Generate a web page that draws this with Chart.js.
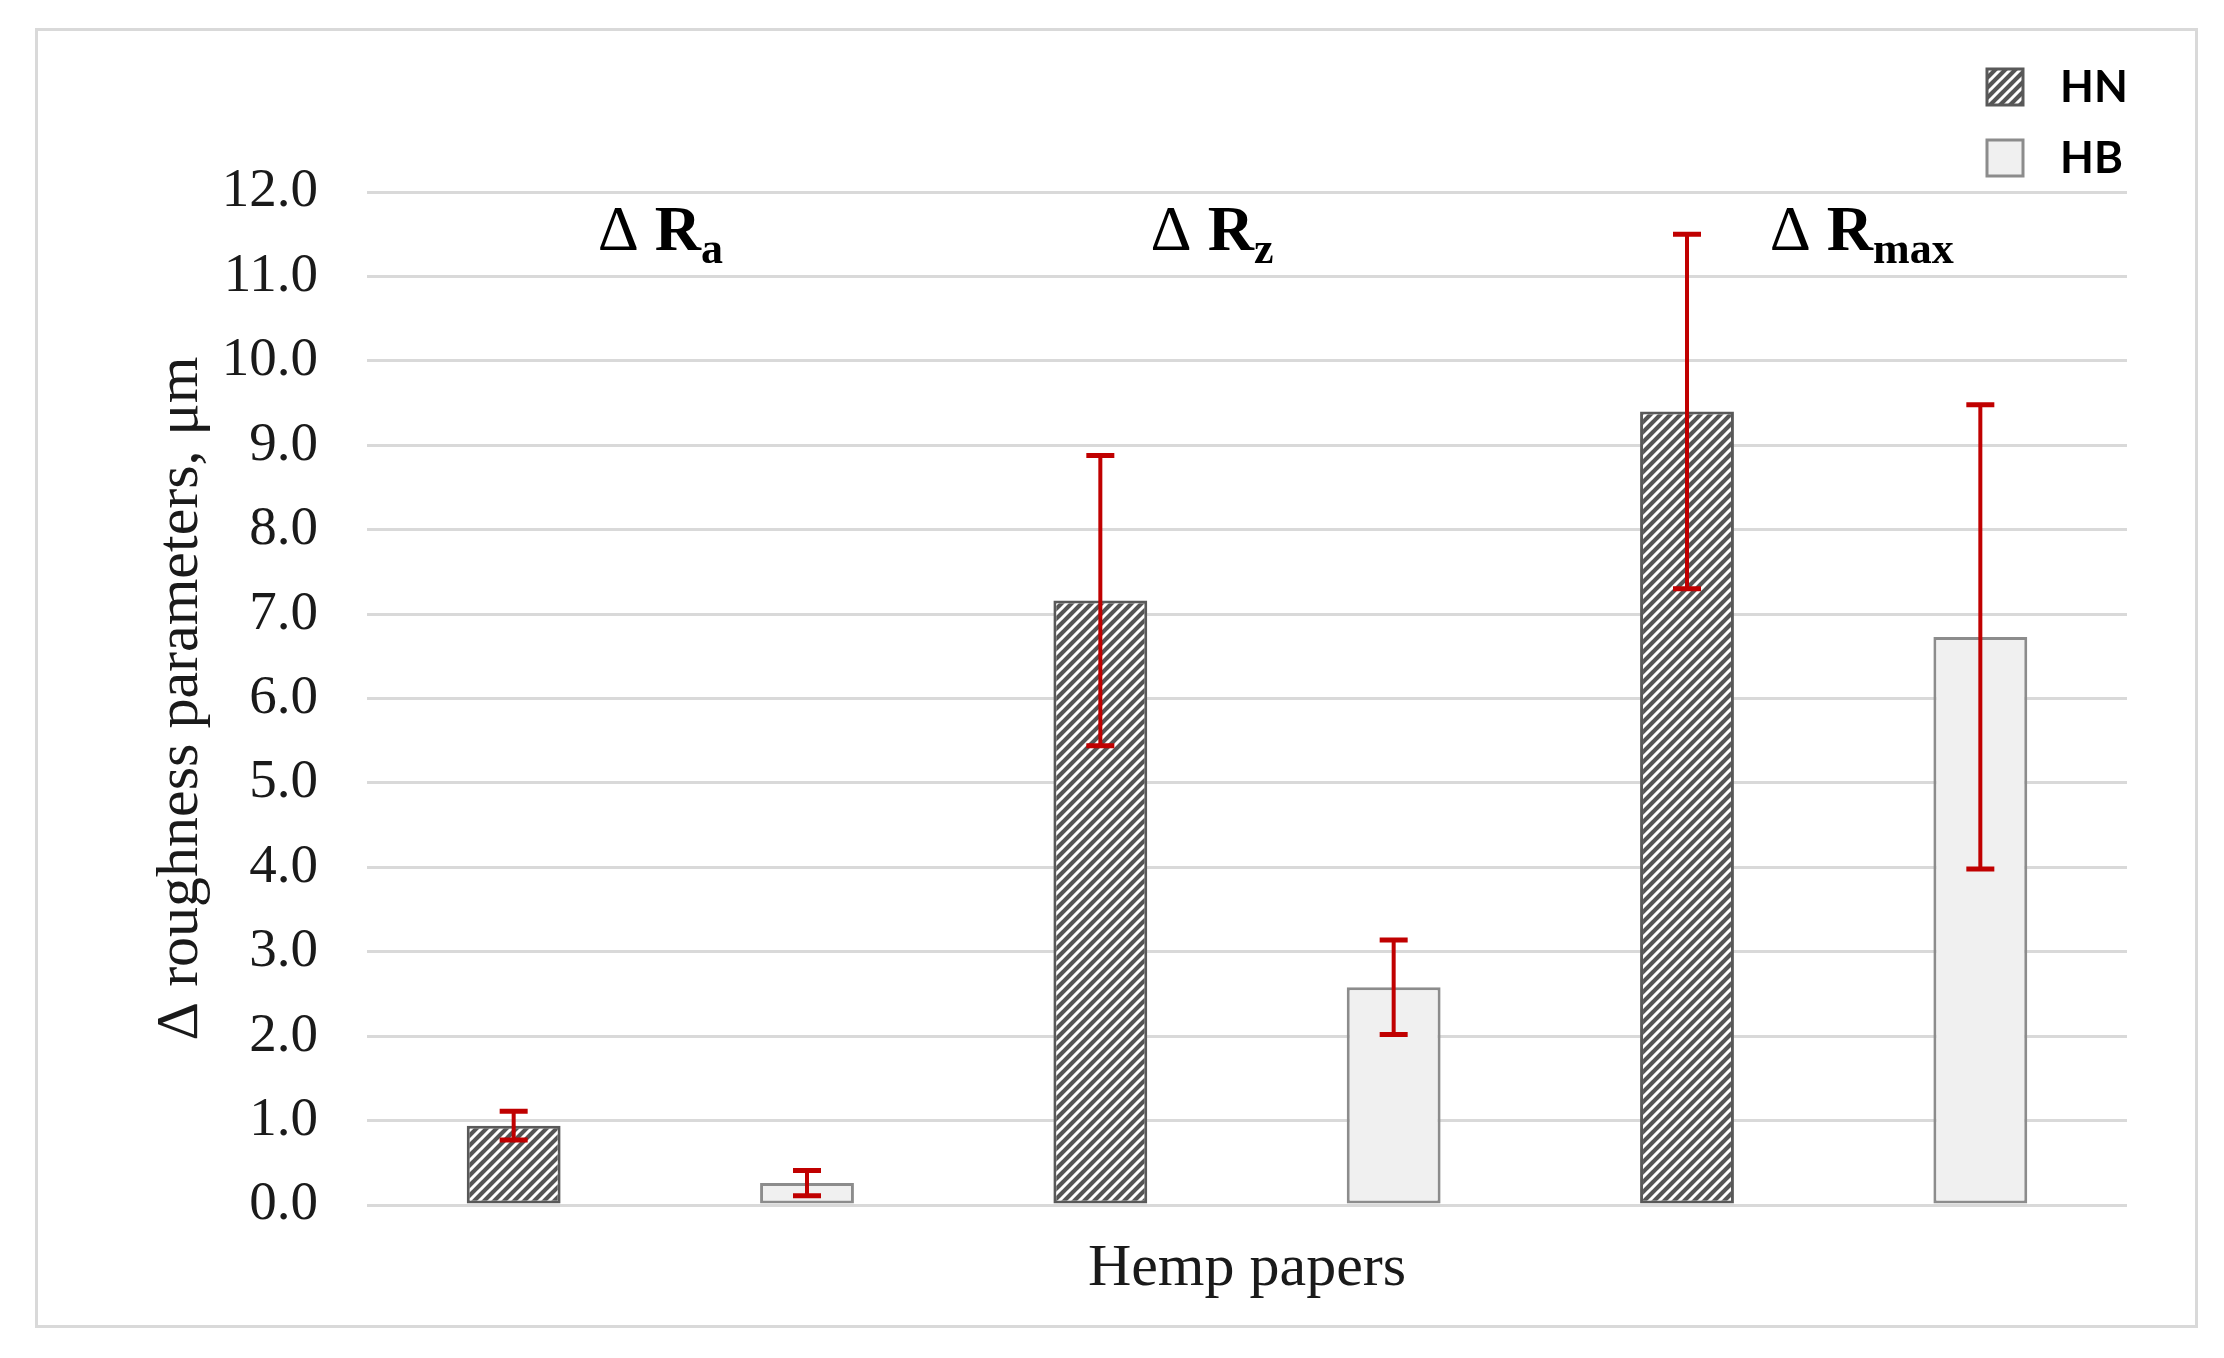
<!DOCTYPE html>
<html>
<head>
<meta charset="utf-8">
<script src="https://cdn.jsdelivr.net/npm/chart.js@4.4.0/dist/chart.umd.min.js"></script>
<style>
  html, body { margin: 0; padding: 0; background: #fff; }
  #frame { position: absolute; left: 35px; top: 28px; width: 2163px; height: 1300px; box-sizing: border-box; border: 3px solid #d9d9d9; }
  #wrap { position: absolute; left: 0; top: 0; width: 2224px; height: 1358px; }
</style>
</head>
<body>
<div id="frame"></div>
<div id="wrap"><canvas id="chart"></canvas></div>
<script>
// data
const categories = ['Ra', 'Rz', 'Rmax'];
const subscripts = ['a', 'z', 'max'];
const seriesNames = ['HN', 'HB'];
const hnValues = [0.94, 7.16, 9.40];
const hnErrors = [0.17, 1.72, 2.10];
const hbValues = [0.26, 2.58, 6.73];
const hbErrors = [0.15, 0.56, 2.75];
const yTickValues = [0, 1, 2, 3, 4, 5, 6, 7, 8, 9, 10, 11, 12];

// diagonal hatch like the Excel pattern fill
function makeHatch(size) {
  const c = document.createElement('canvas');
  c.width = size; c.height = size;
  const g = c.getContext('2d');
  g.fillStyle = '#555555';
  g.fillRect(0, 0, size, size);
  g.strokeStyle = '#ffffff';
  g.lineWidth = size * 0.3;
  g.beginPath();
  g.moveTo(-1, size + 1); g.lineTo(size + 1, -1);
  g.moveTo(-1, 1); g.lineTo(1, -1);
  g.moveTo(size - 1, size + 1); g.lineTo(size + 1, size - 1);
  g.stroke();
  return g.createPattern(c, 'repeat');
}
const hatch = makeHatch(10);

const errorBars = {
  id: 'errorBars',
  afterDatasetsDraw(chart) {
    const { ctx, scales: { y } } = chart;
    ctx.save();
    ctx.strokeStyle = '#c00000';
    chart.data.datasets.forEach((ds, i) => {
      chart.getDatasetMeta(i).data.forEach((bar, j) => {
        const top = y.getPixelForValue(ds.data[j] + ds.errors[j]);
        const bot = y.getPixelForValue(Math.max(0, ds.data[j] - ds.errors[j]));
        ctx.lineWidth = 4;
        ctx.beginPath();
        ctx.moveTo(bar.x, top); ctx.lineTo(bar.x, bot);
        ctx.stroke();
        ctx.lineWidth = 5;
        ctx.beginPath();
        ctx.moveTo(bar.x - 14, top); ctx.lineTo(bar.x + 14, top);
        ctx.moveTo(bar.x - 14, bot); ctx.lineTo(bar.x + 14, bot);
        ctx.stroke();
      });
    });
    ctx.restore();
  }
};

// "Δ Ra" style headers above each group
const headers = {
  id: 'headers',
  afterDraw(chart, args, opts) {
    const { ctx, scales: { x } } = chart;
    ctx.save();
    ctx.fillStyle = '#000';
    ctx.textBaseline = 'alphabetic';
    ctx.textAlign = 'left';
    categories.forEach((cat, i) => {
      const delta = 'Δ ';
      const fDelta = '64px "Liberation Serif"';
      const fR = 'bold 64px "Liberation Serif"';
      const fSub = 'bold 44px "Liberation Serif"';
      ctx.font = fDelta; const wD = ctx.measureText(delta).width;
      ctx.font = fR; const wR = ctx.measureText('R').width;
      ctx.font = fSub; const wS = ctx.measureText(subscripts[i]).width;
      const cx = x.getPixelForValue(i) + opts.shift[i];
      let px = cx - (wD + wR + wS) / 2;
      ctx.font = fDelta; ctx.fillText(delta, px, opts.baseline); px += wD;
      ctx.font = fR; ctx.fillText('R', px, opts.baseline); px += wR;
      ctx.font = fSub; ctx.fillText(subscripts[i], px, opts.baseline + 13);
    });
    ctx.restore();
  }
};

const boxLegend = {
  id: 'boxLegend',
  afterDraw(chart, args, opts) {
    const { ctx } = chart;
    ctx.save();
    chart.data.datasets.forEach((ds, i) => {
      const y = opts.top + i * opts.step;
      ctx.fillStyle = ds.backgroundColor;
      ctx.fillRect(opts.left, y, 36, 36);
      ctx.strokeStyle = ds.borderColor;
      ctx.lineWidth = 3;
      ctx.strokeRect(opts.left, y, 36, 36);
      ctx.fillStyle = '#000';
      ctx.font = 'bold 44px Lato';
      ctx.textBaseline = 'middle';
      ctx.fillText(ds.label, opts.left + 73, y + 19);
    });
    ctx.restore();
  }
};

new Chart(document.getElementById('chart'), {
  type: 'bar',
  data: {
    labels: categories,
    datasets: [
      { label: seriesNames[0], data: hnValues, errors: hnErrors,
        backgroundColor: hatch, borderColor: '#595959', borderWidth: 3, borderSkipped: false },
      { label: seriesNames[1], data: hbValues, errors: hbErrors,
        backgroundColor: '#f0f0f0', borderColor: '#8c8c8c', borderWidth: 3, borderSkipped: false }
    ]
  },
  options: {
    responsive: true,
    maintainAspectRatio: false,
    animation: false,
    datasets: { bar: { categoryPercentage: 1, barPercentage: 0.32 } },
    layout: { padding: { top: 192, right: 97, bottom: 0, left: 0 } },
    plugins: {
      legend: { display: false },
      tooltip: { enabled: false },
      headers: { shift: [0, -35, 28], baseline: 250 },
      boxLegend: { left: 1987, top: 69, step: 71 }
    },
    scales: {
      x: {
        ticks: { display: false },
        grid: { display: false },
        border: { display: false },
        title: { display: true, text: 'Hemp papers', color: '#1a1a1a',
                 font: { family: 'Liberation Serif', size: 60 }, padding: { top: 0, bottom: 53 } },
        afterFit(scale) { scale.height = 153; }
      },
      y: {
        min: 0, max: 12,
        afterBuildTicks(scale) { scale.ticks = yTickValues.map(v => ({ value: v })); },
        ticks: { padding: 49, color: '#1a1a1a', font: { family: 'Liberation Serif', size: 55 },
                 callback: v => v.toFixed(1) },
        grid: { color: '#d9d9d9', lineWidth: 3, drawTicks: false },
        border: { display: false },
        title: { display: true, text: 'Δ roughness parameters, μm', color: '#1a1a1a',
                 font: { family: 'Liberation Serif', size: 60 }, padding: { top: 145, bottom: 0 } },
        afterFit(scale) { scale.width = 367; }
      }
    }
  },
  plugins: [errorBars, headers, boxLegend]
});
</script>
</body>
</html>
